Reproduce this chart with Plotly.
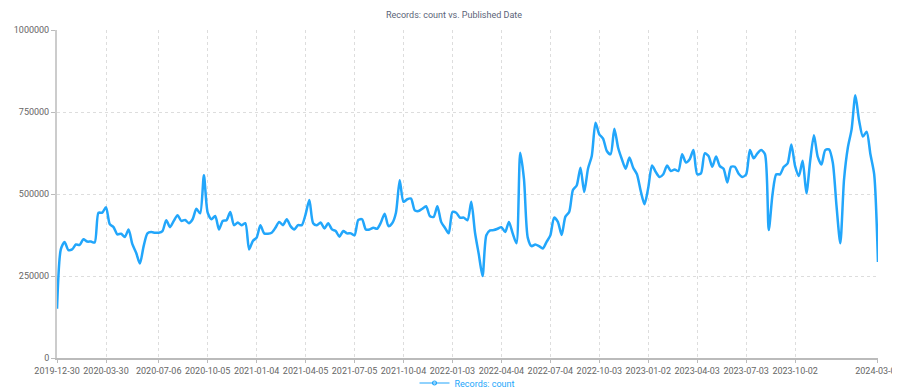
import pandas as pd
import plotly.graph_objects as go

start_date = "2019-12-30"
n_weeks = 219
dates = pd.date_range(start_date, periods=n_weeks, freq="7D")

counts = [
    150000, 331000, 354000, 329000, 331000, 346000, 345000, 362000, 355000, 355000,
    352000, 443000, 443000, 460000, 408000, 399000, 377000, 379000, 369000, 392000,
    347000, 321000, 288000, 341000, 380000, 384000, 382000, 382000, 387000, 420000,
    399000, 418000, 435000, 418000, 421000, 411000, 423000, 455000, 441000, 557000,
    443000, 423000, 433000, 392000, 418000, 420000, 445000, 405000, 413000, 405000,
    411000, 331000, 357000, 367000, 405000, 380000, 379000, 382000, 397000, 415000,
    405000, 423000, 402000, 392000, 405000, 405000, 438000, 482000, 411000, 405000,
    413000, 395000, 411000, 392000, 387000, 370000, 387000, 380000, 380000, 374000,
    421000, 423000, 392000, 392000, 397000, 394000, 413000, 440000, 402000, 411000,
    443000, 542000, 476000, 484000, 486000, 450000, 448000, 455000, 463000, 433000,
    430000, 463000, 415000, 397000, 380000, 445000, 443000, 428000, 428000, 420000,
    476000, 382000, 316000, 250000, 374000, 389000, 390000, 394000, 399000, 384000,
    415000, 380000, 350000, 626000, 545000, 367000, 341000, 346000, 341000, 334000,
    354000, 374000, 428000, 415000, 375000, 431000, 445000, 512000, 526000, 580000,
    506000, 577000, 616000, 717000, 682000, 669000, 631000, 621000, 699000, 641000,
    606000, 577000, 611000, 580000, 560000, 509000, 469000, 519000, 587000, 567000,
    552000, 560000, 587000, 570000, 575000, 570000, 621000, 596000, 606000, 634000,
    560000, 563000, 624000, 616000, 583000, 614000, 585000, 577000, 535000, 583000,
    583000, 562000, 552000, 560000, 634000, 609000, 624000, 634000, 621000, 390000,
    499000, 560000, 560000, 583000, 593000, 651000, 585000, 555000, 601000, 502000,
    601000, 679000, 614000, 590000, 634000, 636000, 596000, 463000, 350000, 545000,
    641000, 697000, 801000, 723000, 675000, 690000, 621000, 560000, 293000,
]

x_ticks = [
    "2019-12-30", "2020-03-30", "2020-07-06", "2020-10-05", "2021-01-04",
    "2021-04-05", "2021-07-05", "2021-10-04", "2022-01-03", "2022-04-04",
    "2022-07-04", "2022-10-03", "2023-01-02", "2023-04-03", "2023-07-03",
    "2023-10-02", "2024-03-04",
]
y_ticks = [0, 250000, 500000, 750000, 1000000]

series_name = "Records: count"
title_text = "Records: count vs. Published Date"

line_color = "#22a6fb"
font_family = "Roboto, 'Noto Sans', sans-serif"

# the page body has an 8px default margin, so the figure is sized to compensate
fig_w, fig_h = 892, 384
plot_h = 328

fig = go.Figure()
fig.add_trace(go.Scatter(
    x=dates, y=counts, mode="lines", name=series_name,
    line=dict(color=line_color, width=2.5, shape="spline", smoothing=0.7),
    showlegend=False,
))
fig.add_trace(go.Scatter(
    x=[None], y=[None], mode="lines+markers", name=series_name,
    line=dict(color=line_color, width=1.2),
    marker=dict(symbol="circle-open", size=4, color=line_color, line=dict(width=1.2)),
    showlegend=True,
))

pad = pd.Timedelta(hours=2)
fig.update_layout(
    width=fig_w, height=fig_h,
    margin=dict(l=49, r=22, t=22, b=34, autoexpand=False),
    paper_bgcolor="white", plot_bgcolor="white",
    font=dict(family=font_family, size=9, color="#666666"),
    title=dict(text=title_text, x=0.5, xanchor="center", y=1 - 7 / fig_h, yanchor="middle",
               font=dict(size=9, color="#5b6478")),
    showlegend=True,
    legend=dict(orientation="h", x=0.5, xanchor="center", y=-25 / plot_h, yanchor="middle",
                font=dict(color=line_color, size=9), itemwidth=30,
                bgcolor="rgba(0,0,0,0)"),
)
fig.update_xaxes(
    range=[dates[0] - pad, dates[-1] + pad],
    tickvals=pd.to_datetime(x_ticks), ticktext=x_ticks,
    ticklabeloverflow="allow",
    showgrid=True, gridcolor="#dddddd", griddash="dot", gridwidth=1,
    showline=True, linecolor="#bbbbbb", linewidth=1.5,
    ticks="outside", ticklen=3, tickcolor="#bbbbbb",
    zeroline=False, tickangle=0,
)
fig.update_yaxes(
    range=[0, 1000000], tickvals=y_ticks, tickformat="d",
    showgrid=True, gridcolor="#dddddd", griddash="dot", gridwidth=1,
    showline=True, linecolor="#cccccc", linewidth=2,
    ticks="outside", ticklen=4, tickcolor="#bbbbbb",
    zeroline=False,
)

fig.write_html("out.html")
